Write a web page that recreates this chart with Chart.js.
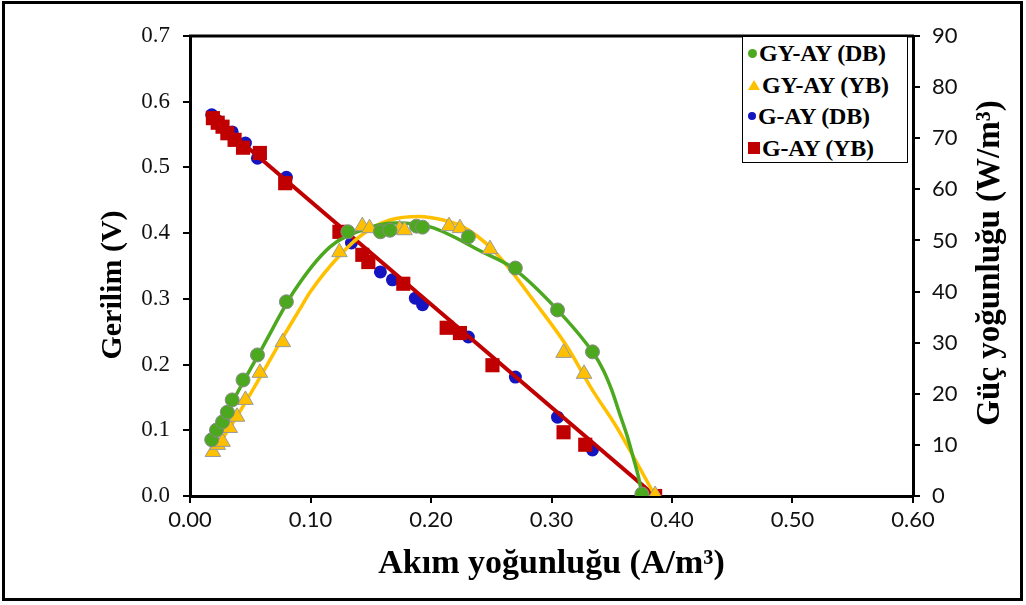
<!DOCTYPE html>
<html lang="tr">
<head>
<meta charset="UTF-8">
<title>Akım yoğunluğu - Gerilim ve Güç yoğunluğu</title>
<script src="https://cdn.jsdelivr.net/npm/chart.js@4.4.1/dist/chart.umd.min.js"></script>
<style>
  body { margin: 0; background: #fff; }
  #wrap { position: relative; width: 1026px; height: 605px; }
  #legend {
    position: absolute; left: 742px; top: 36px; width: 166px; height: 127px;
    box-sizing: border-box; border: 1px solid #000; background: #fff;
    font: bold 24px "Liberation Serif", serif; color: #000; padding-top: 1px;
  }
  #legend div { height: 31.5px; line-height: 31.5px; white-space: nowrap; padding-left: 5px; letter-spacing: -0.2px; }
  #legend i { display: inline-block; vertical-align: middle; margin-right: 2px; position: relative; top: -2px; }
</style>
</head>
<body>
<div id="wrap">
  <canvas id="c" width="1026" height="605"></canvas>
  <div id="legend"></div>
</div>
<script>
// tick labels
const xTicks = ['0.00', '0.10', '0.20', '0.30', '0.40', '0.50', '0.60'];
const vTicks = ['0.0', '0.1', '0.2', '0.3', '0.4', '0.5', '0.6', '0.7'];
const pTicks = ['0', '10', '20', '30', '40', '50', '60', '70', '80', '90'];

// series labels
const names = ['GY-AY (DB)', 'GY-AY (YB)', 'G-AY (DB)', 'G-AY (YB)'];

// GY-AY (DB) - güç yoğunluğu
const gyDbI = [0.018, 0.022, 0.027, 0.031, 0.035, 0.044, 0.056, 0.080, 0.131, 0.158, 0.166, 0.188, 0.193, 0.231, 0.270, 0.305, 0.334, 0.375];
const gyDbP = [11.0, 12.9, 14.5, 16.4, 18.8, 22.7, 27.6, 38.0, 51.7, 51.7, 52.0, 52.8, 52.6, 50.7, 44.6, 36.4, 28.2, 0.4];

// GY-AY (YB) - güç yoğunluğu
const gyYbI = [0.019, 0.023, 0.027, 0.033, 0.039, 0.046, 0.058, 0.077, 0.124, 0.143, 0.149, 0.174, 0.178, 0.215, 0.224, 0.249, 0.310, 0.327, 0.386];
const gyYbP = [8.6, 10.0, 10.6, 13.3, 15.5, 18.8, 24.1, 30.1, 47.7, 52.8, 52.4, 52.2, 52.0, 52.8, 52.4, 48.3, 28.0, 23.9, 0.2];

// G-AY (DB) - gerilim
const gaDbI = [0.018, 0.022, 0.027, 0.035, 0.046, 0.056, 0.080, 0.134, 0.158, 0.168, 0.187, 0.193, 0.231, 0.270, 0.305, 0.334, 0.375];
const gaDbV = [0.580, 0.572, 0.563, 0.554, 0.537, 0.514, 0.485, 0.385, 0.341, 0.329, 0.301, 0.291, 0.242, 0.181, 0.120, 0.070, 0.000];

// G-AY (YB) - gerilim
const gaYbI = [0.019, 0.023, 0.027, 0.031, 0.037, 0.044, 0.058, 0.079, 0.124, 0.143, 0.148, 0.177, 0.213, 0.224, 0.251, 0.310, 0.328, 0.386];
const gaYbV = [0.575, 0.568, 0.562, 0.552, 0.542, 0.530, 0.522, 0.476, 0.402, 0.367, 0.356, 0.323, 0.256, 0.248, 0.199, 0.097, 0.078, 0.000];

// trend lines
const gyDbFitI = [0.018, 0.040, 0.060, 0.087, 0.116, 0.140, 0.170, 0.200, 0.243, 0.268, 0.301, 0.334, 0.343, 0.350, 0.357, 0.363, 0.368, 0.372, 0.375];
const gyDbFitP = [10.5, 20.5, 29.0, 40.3, 48.7, 51.8, 53.4, 52.6, 47.7, 44.6, 37.4, 28.2, 24.6, 20.7, 15.8, 11.6, 7.4, 3.9, 0.5];
const gyYbFitI = [0.018, 0.040, 0.060, 0.077, 0.091, 0.100, 0.124, 0.145, 0.166, 0.190, 0.210, 0.227, 0.249, 0.266, 0.285, 0.313, 0.334, 0.354, 0.372, 0.386];
const gyYbFitP = [8.0, 16.0, 24.0, 31.0, 36.5, 40.0, 47.0, 51.5, 54.0, 54.7, 54.0, 52.6, 48.7, 44.2, 38.3, 29.2, 20.7, 13.5, 6.0, 0.0];
const gaFitI = [0.018, 0.386];
const gaFitV = [0.577, 0.000];

const xTitle = 'Akım yoğunluğu (A/m³)';
const vTitle = 'Gerilim (V)';
const pTitle = 'Güç yoğunluğu (W/m³)';

const green = '#4CA81E', yellow = '#FFC000', blue = '#1414C0', red = '#C00000';

function pts(xs, ys) { return xs.map((x, i) => ({ x: x, y: ys[i] })); }

function sideTitle(ctx, text, x, y, size) {
  ctx.save();
  ctx.translate(x, y);
  ctx.rotate(-Math.PI / 2);
  ctx.font = 'bold ' + size + 'px "Liberation Serif"';
  ctx.textAlign = 'center';
  ctx.textBaseline = 'middle';
  ctx.fillStyle = '#000';
  ctx.fillText(text, 0, 0);
  ctx.restore();
}

// frame, top border of plot area and the two vertical axis titles
const extras = {
  id: 'extras',
  beforeDraw(chart) {
    const ctx = chart.ctx;
    ctx.save();
    ctx.fillStyle = '#fff';
    ctx.fillRect(0, 0, chart.width, chart.height);
    ctx.restore();
  },
  afterDraw(chart) {
    const ctx = chart.ctx, a = chart.chartArea;
    ctx.save();
    ctx.strokeStyle = '#000';
    ctx.lineWidth = 3;
    ctx.beginPath();
    ctx.moveTo(a.left - 1, a.top);
    ctx.lineTo(a.right + 1, a.top);
    ctx.stroke();
    ctx.strokeRect(3.5, 2.5, 1018, 597);
    ctx.restore();
    sideTitle(ctx, vTitle, 113, 285, 30);
    sideTitle(ctx, pTitle, 990, 263, 33);
  }
};

const tickGrid = { drawOnChartArea: false, color: '#000', lineWidth: 2, tickLength: 7 };
const axisBorder = { color: '#000', width: 3 };

new Chart(document.getElementById('c'), {
  type: 'scatter',
  data: {
    datasets: [
      { label: names[0], data: pts(gyDbI, gyDbP), yAxisID: 'y1', order: 0,
        pointStyle: 'circle', pointRadius: 7, backgroundColor: green, borderColor: '#8a8a8a', borderWidth: 1 },
      { label: names[1], data: pts(gyYbI, gyYbP), yAxisID: 'y1', order: 1,
        pointStyle: 'triangle', pointRadius: 9, backgroundColor: yellow, borderColor: '#9a9a9a', borderWidth: 1 },
      { label: 'fit-db', data: pts(gyDbFitI, gyDbFitP), yAxisID: 'y1', order: 2, showLine: true,
        cubicInterpolationMode: 'monotone', pointRadius: 0, borderColor: green, borderWidth: 3.5 },
      { label: 'fit-yb', data: pts(gyYbFitI, gyYbFitP), yAxisID: 'y1', order: 3, showLine: true,
        cubicInterpolationMode: 'monotone', pointRadius: 0, borderColor: yellow, borderWidth: 3.5 },
      { label: names[3], data: pts(gaYbI, gaYbV), yAxisID: 'y', order: 4,
        pointStyle: 'rect', pointRadius: 10, backgroundColor: red, borderColor: red, borderWidth: 0 },
      { label: 'fit-ga', data: pts(gaFitI, gaFitV), yAxisID: 'y', order: 5, showLine: true,
        pointRadius: 0, borderColor: red, borderWidth: 4 },
      { label: names[2], data: pts(gaDbI, gaDbV), yAxisID: 'y', order: 6,
        pointStyle: 'circle', pointRadius: 6.5, backgroundColor: blue, borderColor: blue, borderWidth: 0 }
    ]
  },
  options: {
    responsive: false,
    animation: false,
    layout: { padding: { top: 36, left: 0, right: 0, bottom: 0 } },
    plugins: { legend: { display: false }, tooltip: { enabled: false } },
    scales: {
      x: {
        type: 'linear', min: 0, max: 0.6,
        afterFit: s => { s.height = 109; },
        ticks: { stepSize: 0.1, padding: 4, color: '#111', font: { family: 'Lato', size: 22 },
                 callback: (v, i) => xTicks[i] },
        grid: tickGrid, border: axisBorder,
        title: { display: true, text: xTitle, color: '#000', padding: { top: 0, bottom: 20 },
                 font: { family: 'Liberation Serif', size: 34, weight: 'bold' } }
      },
      y: {
        position: 'left', min: 0, max: 0.7,
        afterFit: s => { s.width = 190; },
        ticks: { stepSize: 0.1, padding: 13, color: '#111', font: { family: 'Liberation Serif', size: 23 },
                 callback: (v, i) => vTicks[i] },
        grid: tickGrid, border: axisBorder
      },
      y1: {
        position: 'right', min: 0, max: 90,
        afterFit: s => { s.width = 113; },
        ticks: { stepSize: 10, padding: 12, color: '#111', font: { family: 'Lato', size: 22 },
                 callback: (v, i) => pTicks[i] },
        grid: tickGrid, border: axisBorder
      }
    }
  },
  plugins: [extras]
});

// legend box in the top-right corner of the plot area
const legendMarks = [
  '<i style="width:9px;height:9px;border-radius:50%;background:' + green + '"></i>',
  '<i style="width:0;height:0;border-left:6px solid transparent;border-right:6px solid transparent;border-bottom:10px solid ' + yellow + '"></i>',
  '<i style="width:8px;height:8px;border-radius:50%;background:' + blue + '"></i>',
  '<i style="width:12px;height:12px;background:' + red + '"></i>'
];
document.getElementById('legend').innerHTML =
  names.map((n, i) => '<div>' + legendMarks[i] + n + '</div>').join('');
</script>
</body>
</html>
